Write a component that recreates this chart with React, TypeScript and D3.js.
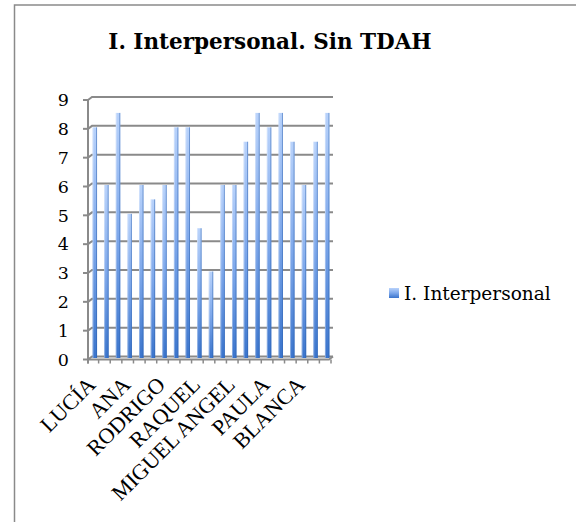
import React from "react";
import * as d3 from "d3";

const width = 576;
const height = 522;

// 21 alumnos; solo uno de cada tres nombres aparece en el eje
const categories = [
  "LUCÍA", "ALUMNO 2", "ALUMNO 3",
  "ANA", "ALUMNO 5", "ALUMNO 6",
  "RODRIGO", "ALUMNO 8", "ALUMNO 9",
  "RAQUEL", "ALUMNO 11", "ALUMNO 12",
  "MIGUEL ANGEL", "ALUMNO 14", "ALUMNO 15",
  "PAULA", "ALUMNO 17", "ALUMNO 18",
  "BLANCA", "ALUMNO 20", "ALUMNO 21",
];
const values = [8, 6, 8.5, 5, 6, 5.5, 6, 8, 8, 4.5, 3, 6, 6, 7.5, 8.5, 8, 8.5, 7.5, 6, 7.5, 8.5];
const yTicks = [0, 1, 2, 3, 4, 5, 6, 7, 8, 9];
const seriesName = "I. Interpersonal";
const title = "I. Interpersonal. Sin TDAH";

const font = "'DejaVu Serif', Georgia, serif";
const labelFont = "'Liberation Serif', 'Times New Roman', serif";
const gray = "#8a8a8a";
// depth offset of the back wall
const dx = 4;
const dy = -3;

export default function App() {
  const x = d3.scaleBand().domain(categories).range([88, 332]).paddingInner(0);
  const y = d3.scaleLinear().domain([0, 9]).range([359.5, 100]);
  const bw = x.bandwidth();
  const barW = 4.5;

  return (
    <div style={{ position: "absolute", left: 0, top: 0 }}>
      <svg width={width} height={height} style={{ display: "block" }}>
        <defs>
          <linearGradient id="barGrad" x1="0" y1="0" x2="0" y2="1">
            <stop offset="0" stopColor="#b8d2fb" />
            <stop offset="0.5" stopColor="#7ea8eb" />
            <stop offset="1" stopColor="#3a74cc" />
          </linearGradient>
        </defs>
        <rect x={0} y={0} width={width} height={height} fill="#fff" />
        <rect x={14.5} y={5} width={width + 10} height={height + 10} fill="none" stroke={gray} strokeWidth={1.5} />

        <text x={270} y={49} textAnchor="middle" fontFamily={font} fontWeight="bold" fontSize={21.5} fill="#000">
          {title}
        </text>

        {/* back wall gridlines */}
        {yTicks.map((t) => (
          <g key={"g" + t}>
            <path
              d={`M88,${y(t)} L${88 + dx},${y(t) + dy} L333,${y(t) + dy}`}
              fill="none"
              stroke={gray}
              strokeWidth={2}
            />
            <line x1={83} x2={88} y1={y(t)} y2={y(t)} stroke={gray} strokeWidth={2} />
            <text x={69} y={y(t)} dy="0.36em" textAnchor="end" fontFamily={font} fontSize={17.5} fill="#000">
              {t}
            </text>
          </g>
        ))}
        <line x1={88} x2={88} y1={y(9)} y2={y(0) + 4} stroke={gray} strokeWidth={2} />

        {/* bars */}
        {values.map((v, i) => {
          const cx = (x(categories[i]) as number) + bw / 2 + 1;
          const top = y(v) - 1.5;
          const bottom = y(0) - 1.5;
          return (
            <g key={"b" + i}>
              <rect x={cx - barW / 2} y={top} width={barW} height={bottom - top} fill="url(#barGrad)" />
              <line x1={cx - barW / 2 + 0.5} x2={cx - barW / 2 + 0.5} y1={top} y2={bottom} stroke="#fff" strokeOpacity={0.35} strokeWidth={1} />
              <line x1={cx + barW / 2 - 0.5} x2={cx + barW / 2 - 0.5} y1={top} y2={bottom} stroke="#2a5fae" strokeOpacity={0.5} strokeWidth={1} />
            </g>
          );
        })}

        {/* floor / x axis */}
        <path
          d={`M88,${y(0)} L${333 - dx},${y(0)} L333,${y(0) + dy}`}
          fill="none"
          stroke={gray}
          strokeWidth={2}
        />
        {d3.range(categories.length + 1).map((i) => {
          const tx = 88 + i * bw - (i > 0 ? 1 : 0);
          return <line key={"t" + i} x1={tx} x2={tx} y1={y(0)} y2={y(0) + 4} stroke={gray} strokeWidth={1.5} />;
        })}
        {categories.map((c, i) =>
          i % 3 === 0 ? (
            <text
              key={"l" + i}
              transform={`translate(${(x(c) as number) + bw / 2 + 3},386) rotate(-45)`}
              textAnchor="end"
              fontFamily={labelFont}
              fontSize={22}
              fill="#000"
            >
              {c}
            </text>
          ) : null
        )}

        {/* legend */}
        <rect x={389} y={288} width={10} height={10} fill="url(#barGrad)" />
        <text x={404} y={299.5} fontFamily={font} fontSize={18.5} fill="#000">
          {seriesName}
        </text>
      </svg>
    </div>
  );
}
